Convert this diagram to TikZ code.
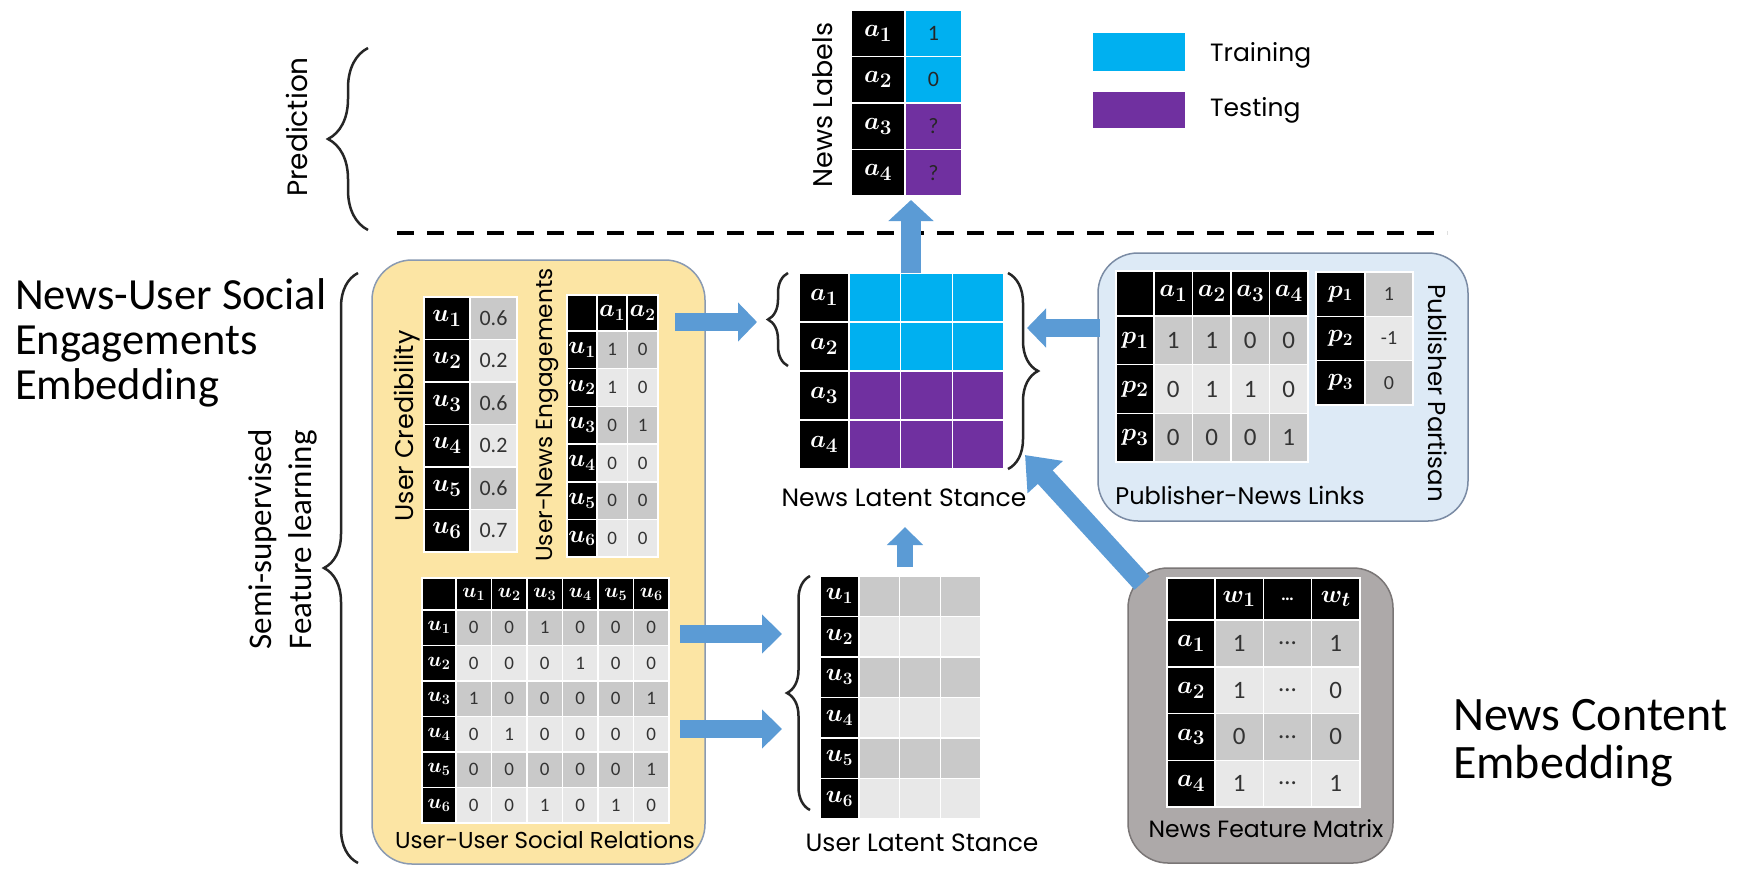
\documentclass[tikz,border=0pt]{standalone}
\usepackage{fontspec}
\usepackage{bm}
\setmainfont{Carlito}
\newfontfamily\geofont{Poppins}
\newfontfamily\calfont{Carlito}
\usetikzlibrary{arrows.meta,decorations.pathreplacing}
\definecolor{cyanL}{HTML}{00B0F0}
\definecolor{purpleL}{HTML}{7030A0}
\definecolor{arrowblue}{HTML}{5B9BD5}
\definecolor{cdark}{HTML}{C9C9C9}
\definecolor{clight}{HTML}{E8E8E8}
\definecolor{yfill}{HTML}{FCE5A4}
\definecolor{bfill}{HTML}{DDEAF6}
\definecolor{gfill}{HTML}{ADA9A9}
\definecolor{yline}{HTML}{8A9AB2}
\definecolor{bline}{HTML}{7A8BA4}
\definecolor{gline}{HTML}{7A7676}
\definecolor{numtext}{HTML}{333333}
\newcommand{\gsz}[1]{\geofont\fontsize{#1}{#1}\selectfont}
\tikzset{
  cell/.style={anchor=north west, draw=white, line width=1.5pt, inner sep=0pt, outer sep=0pt},
  hcell/.style={cell, fill=black, text=white},
  vcell/.style={cell, text=numtext},
  lbl/.style={text=black, inner sep=0pt},
  curly/.style={decorate, decoration={brace, amplitude=#1}, line width=2.5pt, draw=black!85},
  barrow/.style={draw=arrowblue},
  rbox/.style={rounded corners=40pt, line width=1.5pt, inner sep=0pt},
}
\begin{document}
\begin{tikzpicture}[x=1pt,y=-1pt]
\useasboundingbox (0,0) rectangle (1739,868);
\fill[white] (0,0) rectangle (1739,868);

% ---------- big side texts ----------
\node[anchor=west, align=left, inner sep=0pt, font=\calfont\fontsize{44.5}{45}\selectfont] (tnuse) at (15,343) {News-User Social\\Engagements\\Embedding};
\node[anchor=west, align=left, inner sep=0pt, font=\calfont\fontsize{48}{48}\selectfont] (tnce) at (1453,743) {News Content\\Embedding};

% ---------- prediction part ----------
\node[lbl, rotate=90, font=\gsz{28}] (tpred) at (297,127) {Prediction};
\draw[curly=40] (368,230) -- (368,48);
\draw[line width=4pt, dash pattern=on 17pt off 13pt] (397,233) -- (1447,233);

\node[lbl, rotate=90, font=\gsz{27}] (tnl) at (823,105) {News Labels};
\foreach \v/\c [count=\i] in {1/cyanL,0/cyanL,?/purpleL,?/purpleL}{
  \pgfmathsetmacro\yy{10+(\i-1)*46.5}
  \node[hcell, minimum width=54pt, minimum height=46.5pt, font=\fontsize{29}{29}\selectfont] (nlk\i) at (851,\yy) {$\bm{a_{\i}}$};
  \node[vcell, fill=\c, minimum width=57pt, minimum height=46.5pt, text=black!85, font=\calfont\fontsize{22}{22}\selectfont] (nlv\i) at (905,\yy) {\v};
}

% legend
\node[fill=cyanL, minimum width=92pt, minimum height=38pt, inner sep=0pt] (legtr) at (1139,52) {};
\node[fill=purpleL, minimum width=92pt, minimum height=36pt, inner sep=0pt] (legte) at (1139,110) {};
\node[lbl, anchor=west, font=\gsz{25}] (ttrain) at (1210,55) {Training};
\node[lbl, anchor=west, font=\gsz{25}] (ttest) at (1210,110) {Testing};

% ---------- boxes ----------
\node[rbox, draw=yline, fill=yfill, minimum width=333pt, minimum height=604pt] (ybox) at (538.5,562) {};
\node[rbox, draw=bline, fill=bfill, minimum width=370pt, minimum height=268pt] (bbox) at (1283,387) {};
\node[rbox, draw=gline, fill=gfill, minimum width=265pt, minimum height=295pt] (gbox) at (1260.5,715.5) {};

% ---------- semi-supervised ----------
\node[font=\calfont\fontsize{33}{40}\selectfont, rotate=90, align=left, inner sep=0pt] (tsemi) at (283,539) {Semi-supervised\\Feature learning};
\draw[curly=34] (358,863) -- (358,273);

% ---------- user credibility ----------
\node[lbl, rotate=90, font=\gsz{25.5}] (tuc) at (407,426) {User Credibility};
\foreach \v [count=\i] in {0.6,0.2,0.6,0.2,0.6,0.7}{
  \pgfmathsetmacro\yy{297+(\i-1)*42.5}
  \pgfmathtruncatemacro\rp{mod(\i,2)}
  \ifnum\rp=1 \def\sh{cdark}\else\def\sh{clight}\fi
  \node[hcell, minimum width=46pt, minimum height=42.5pt, font=\fontsize{28}{28}\selectfont] (uck\i) at (424,\yy) {$\bm{u_{\i}}$};
  \node[vcell, fill=\sh, minimum width=47pt, minimum height=42.5pt, font=\calfont\fontsize{22}{22}\selectfont] (ucv\i) at (470,\yy) {\v};
}

% ---------- user-news engagements ----------
\node[lbl, rotate=90, font=\gsz{23.2}] (tune) at (548,415) {User-News Engagements};
\node[hcell, minimum width=30pt, minimum height=36pt] (unec) at (567,295) {};
\node[hcell, minimum width=30pt, minimum height=36pt, font=\fontsize{23}{23}\selectfont] (uneh1) at (597,295) {$\bm{a_1}$};
\node[hcell, minimum width=31pt, minimum height=36pt, font=\fontsize{23}{23}\selectfont] (uneh2) at (627,295) {$\bm{a_2}$};
\foreach \row [count=\i] in {{1,0},{1,0},{0,1},{0,0},{0,0},{0,0}}{
  \pgfmathsetmacro\yy{331+(\i-1)*37.7}
  \pgfmathtruncatemacro\rp{mod(\i,2)}
  \ifnum\rp=1 \def\sh{cdark}\else\def\sh{clight}\fi
  \node[hcell, minimum width=30pt, minimum height=37.7pt, font=\fontsize{23}{23}\selectfont] (unek\i) at (567,\yy) {$\bm{u_{\i}}$};
  \foreach \v [count=\j] in \row {
    \pgfmathsetmacro\xx{597+(\j-1)*30.5}
    \node[vcell, fill=\sh, minimum width=30.5pt, minimum height=37.7pt, font=\calfont\fontsize{19}{19}\selectfont] (une\i\j) at (\xx,\yy) {\v};
  }
}

% ---------- user-user social relations ----------
\node[hcell, minimum width=34pt, minimum height=32pt] (uuc) at (422,578) {};
\foreach \j in {1,...,6}{
  \pgfmathsetmacro\xx{456+(\j-1)*35.5}
  \node[hcell, minimum width=35.5pt, minimum height=32pt, font=\fontsize{22}{22}\selectfont] (uuh\j) at (\xx,578) {$\bm{u_{\j}}$};
}
\foreach \row [count=\i] in {{0,0,1,0,0,0},{0,0,0,1,0,0},{1,0,0,0,0,1},{0,1,0,0,0,0},{0,0,0,0,0,1},{0,0,1,0,1,0}}{
  \pgfmathsetmacro\yy{610+(\i-1)*35.5}
  \pgfmathtruncatemacro\rp{mod(\i,2)}
  \ifnum\rp=1 \def\sh{cdark}\else\def\sh{clight}\fi
  \node[hcell, minimum width=34pt, minimum height=35.5pt, font=\fontsize{22}{22}\selectfont] (uuk\i) at (422,\yy) {$\bm{u_{\i}}$};
  \foreach \v [count=\j] in \row {
    \pgfmathsetmacro\xx{456+(\j-1)*35.5}
    \node[vcell, fill=\sh, minimum width=35.5pt, minimum height=35.5pt, font=\calfont\fontsize{19}{19}\selectfont] (uu\i-\j) at (\xx,\yy) {\v};
  }
}
\node[lbl, font=\gsz{23}] (tuu) at (545,840) {User-User Social Relations};

% ---------- news latent stance ----------
\foreach \c [count=\i] in {cyanL,cyanL,purpleL,purpleL}{
  \pgfmathsetmacro\yy{273+(\i-1)*49}
  \node[hcell, minimum width=50pt, minimum height=49pt, font=\fontsize{29}{29}\selectfont] (nlsk\i) at (799,\yy) {$\bm{a_{\i}}$};
  \foreach \j in {1,2,3}{
    \pgfmathsetmacro\xx{849+(\j-1)*51.67}
    \node[cell, fill=\c, minimum width=51.67pt, minimum height=49pt] (nls\i\j) at (\xx,\yy) {};
  }
}
\node[lbl, font=\gsz{25}] (tnls) at (904,498) {News Latent Stance};
\draw[curly=20] (788,366) -- (788,273);
\draw[curly=30] (1008,273) -- (1008,469);

% ---------- user latent stance ----------
\foreach \i in {1,...,6}{
  \pgfmathsetmacro\yy{576+(\i-1)*40.5}
  \pgfmathtruncatemacro\rp{mod(\i,2)}
  \ifnum\rp=1 \def\sh{cdark}\else\def\sh{clight}\fi
  \node[hcell, minimum width=39pt, minimum height=40.5pt, font=\fontsize{24}{24}\selectfont] (ulsk\i) at (820,\yy) {$\bm{u_{\i}}$};
  \foreach \j in {1,2,3}{
    \pgfmathsetmacro\xx{859+(\j-1)*40.67}
    \node[cell, fill=\sh, minimum width=40.67pt, minimum height=40.5pt] (uls\i\j) at (\xx,\yy) {};
  }
}
\node[lbl, font=\gsz{25}] (tuls) at (922,843) {User Latent Stance};
\draw[curly=23] (810,810) -- (810,576);

% ---------- publisher-news links ----------
\node[hcell, minimum width=38pt, minimum height=45pt] (pnc) at (1116,271) {};
\foreach \j in {1,...,4}{
  \pgfmathsetmacro\xx{1154+(\j-1)*38.5}
  \node[hcell, minimum width=38.5pt, minimum height=45pt, font=\fontsize{31}{31}\selectfont] (pnh\j) at (\xx,271) {$\bm{a_{\j}}$};
}
\foreach \row [count=\i] in {{1,1,0,0},{0,1,1,0},{0,0,0,1}}{
  \pgfmathsetmacro\yy{316+(\i-1)*48.7}
  \pgfmathtruncatemacro\rp{mod(\i,2)}
  \ifnum\rp=1 \def\sh{cdark}\else\def\sh{clight}\fi
  \node[hcell, minimum width=38pt, minimum height=48.7pt, font=\fontsize{29}{29}\selectfont] (pnk\i) at (1116,\yy) {$\bm{p_{\i}}$};
  \foreach \v [count=\j] in \row {
    \pgfmathsetmacro\xx{1154+(\j-1)*38.5}
    \node[vcell, fill=\sh, minimum width=38.5pt, minimum height=48.7pt, font=\calfont\fontsize{25}{25}\selectfont] (pn\i\j) at (\xx,\yy) {\v};
  }
}
\node[lbl, font=\gsz{24}] (tpnl) at (1240,495) {Publisher-News Links};

% ---------- publisher partisan ----------
\foreach \v [count=\i] in {1,-1,0}{
  \pgfmathsetmacro\yy{272+(\i-1)*44.3}
  \pgfmathtruncatemacro\rp{mod(\i,2)}
  \ifnum\rp=1 \def\sh{cdark}\else\def\sh{clight}\fi
  \node[hcell, minimum width=49pt, minimum height=44.3pt, font=\fontsize{25}{25}\selectfont] (ppk\i) at (1316,\yy) {$\bm{p_{\i}}$};
  \node[vcell, fill=\sh, minimum width=48pt, minimum height=44.3pt, font=\calfont\fontsize{20}{20}\selectfont] (ppv\i) at (1365,\yy) {\v};
}
\node[lbl, rotate=-90, font=\gsz{24.5}] (tpp) at (1438,393) {Publisher Partisan};

% ---------- news feature matrix ----------
\node[hcell, minimum width=48pt, minimum height=42pt] (nfc) at (1167,578) {};
\node[hcell, minimum width=48.3pt, minimum height=42pt, font=\fontsize{28}{28}\selectfont] (nfh1) at (1215,578) {$\bm{w_1}$};
\node[hcell, minimum width=48.3pt, minimum height=42pt, font=\bfseries\calfont\fontsize{18}{18}\selectfont] (nfh2) at (1263.3,578) {\ldots};
\node[hcell, minimum width=48.3pt, minimum height=42pt, font=\fontsize{28}{28}\selectfont] (nfh3) at (1311.6,578) {$\bm{w_t}$};
\foreach \row [count=\i] in {{1,\ldots,1},{1,\ldots,0},{0,\ldots,0},{1,\ldots,1}}{
  \pgfmathsetmacro\yy{620+(\i-1)*46.75}
  \pgfmathtruncatemacro\rp{mod(\i,2)}
  \ifnum\rp=1 \def\sh{cdark}\else\def\sh{clight}\fi
  \node[hcell, minimum width=48pt, minimum height=46.75pt, font=\fontsize{30}{30}\selectfont] (nfk\i) at (1167,\yy) {$\bm{a_{\i}}$};
  \foreach \v [count=\j] in \row {
    \pgfmathsetmacro\xx{1215+(\j-1)*48.3}
    \node[vcell, fill=\sh, minimum width=48.3pt, minimum height=46.75pt, font=\calfont\fontsize{25}{25}\selectfont] (nf\i\j) at (\xx,\yy) {\v};
  }
}
\node[lbl, font=\gsz{23.5}] (tnfm) at (1266,829) {News Feature Matrix};

% ---------- block arrows ----------
\coordinate (a1s) at (911,273); \coordinate (a1e) at (911,200);
\coordinate (a2s) at (675,322); \coordinate (a2e) at (757,322);
\coordinate (a3s) at (1100,328); \coordinate (a3e) at (1027,328);
\coordinate (a4s) at (1142,583); \coordinate (a4e) at (1025,455);
\coordinate (a5s) at (680,634); \coordinate (a5e) at (782,634);
\coordinate (a6s) at (680,729); \coordinate (a6e) at (782,729);
\coordinate (a7s) at (905,567); \coordinate (a7e) at (905,527);
\draw[barrow, line width=20pt, -{Triangle[length=21pt,width=44pt]}] (a1s) -- (a1e);
\draw[barrow, line width=18pt, -{Triangle[length=19pt,width=38pt]}] (a2s) -- (a2e);
\draw[barrow, line width=18pt, -{Triangle[length=19pt,width=38pt]}] (a3s) -- (a3e);
\draw[barrow, line width=20pt, -{Triangle[length=30pt,width=46pt]}] (a4s) -- (a4e);
\draw[barrow, line width=18pt, -{Triangle[length=20pt,width=38pt]}] (a5s) -- (a5e);
\draw[barrow, line width=18pt, -{Triangle[length=20pt,width=38pt]}] (a6s) -- (a6e);
\draw[barrow, line width=16pt, -{Triangle[length=18pt,width=35pt]}] (a7s) -- (a7e);
\end{tikzpicture}
\end{document}
